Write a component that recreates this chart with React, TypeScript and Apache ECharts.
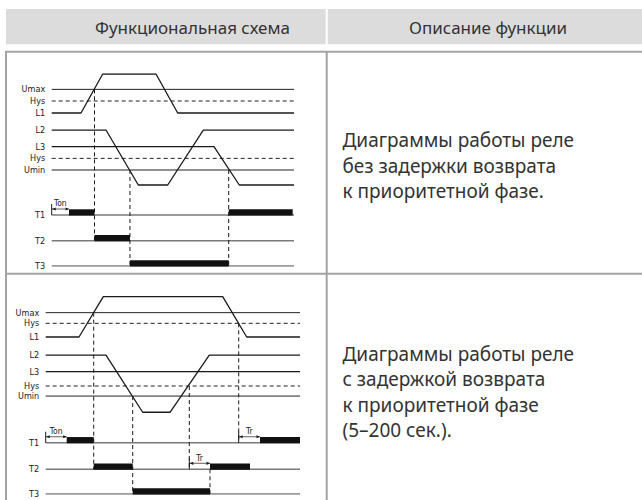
import React, { useEffect, useRef } from "react";
import * as echarts from "echarts";

// ---------- texts ----------
const headerTexts = ["Функциональная схема", "Описание функции"];
const desc1 = ["Диаграммы работы реле", "без задержки возврата", "к приоритетной фазе."];
const desc2 = ["Диаграммы работы реле", "с задержкой возврата", "к приоритетной фазе", "(5–200 сек.)."];

// ---------- level names (left labels) ----------
const levelNames = ["Umax", "Hys", "L1", "L2", "L3", "Hys", "Umin", "T1", "T2", "T3"];
const timerNames = ["Ton", "Tr"];

// ---------- diagram 1 (no return delay) ----------
// level values in diagram units (0 = highest voltage level, grows downward)
const d1Levels = [1.28, 2.25, 3.25, 4.67, 6.06, 7.03, 8.0, 11.75, 13.9, 16.0];
const d1L1 = [[0, 3.25], [12.09, 3.25], [21.05, 0], [43.05, 0], [52.0, 3.25], [100, 3.25]];
const d1L2 = [[0, 4.67], [22.41, 4.67], [35.74, 9.25], [47.87, 9.25], [62.57, 4.67], [100, 4.67]];
const d1L3 = [[0, 6.06], [66.98, 6.06], [77.42, 9.25], [100, 9.25]];
// relay on-intervals: [start, end, row level]
const d1Bars = [[7.14, 17.66, 11.75], [73.05, 99.46, 11.75], [17.66, 32.3, 13.9], [32.3, 73.05, 16.0]];
// dashed verticals: [time, fromLevel, toLevel]
const d1Verticals = [[17.66, 1.28, 13.9], [32.3, 8.0, 16.0], [73.05, 8.0, 16.0]];
// timers: [start, end, row level, name index]
const d1Timers = [[0, 7.14, 11.75, 0]];

// ---------- diagram 2 (with return delay) ----------
const d2Levels = [1.33, 2.22, 3.36, 4.86, 6.25, 7.44, 8.28, 12.17, 14.38, 16.44];
const d2L1 = [[0, 3.36], [13.09, 3.36], [22.65, 0], [69.6, 0], [79.04, 3.36], [100, 3.36]];
const d2L2 = [[0, 4.86], [23.71, 4.86], [38.14, 9.63], [48.88, 9.63], [64.33, 4.86], [100, 4.86]];
const d2L3 = [[0, 6.25], [100, 6.25]];
const d2Bars = [[8.26, 18.88, 12.17], [84.27, 100, 12.17], [18.88, 34.21, 14.38], [64.61, 80.34, 14.38], [34.21, 64.61, 16.44]];
const d2Verticals = [[18.88, 1.33, 14.38], [34.21, 8.28, 16.44], [56.47, 7.44, 14.38], [64.61, 14.38, 16.44], [75.9, 2.22, 12.17]];
const d2Timers = [[0, 8.26, 12.17, 0], [75.9, 84.27, 12.17, 1], [56.47, 64.61, 14.38, 1]];

const SMALL_FONT = "'Liberation Sans Narrow', 'DejaVu Sans Condensed', 'Liberation Sans', sans-serif";
const MAIN_FONT = "'Noto Sans', 'Open Sans', sans-serif";
const INK = "#1a1a1a";

function diagramSeries(gi: number, levels: number[], curves: number[][][], bars: number[][], verticals: number[][], timers: number[][]) {
  const s: any[] = [];
  const base = { xAxisIndex: gi, yAxisIndex: gi, silent: true, symbol: "none", z: 2 };
  // reference lines
  [0, 6].forEach((i) =>
    s.push({ ...base, type: "line", data: [[0, levels[i]], [100, levels[i]]], lineStyle: { color: "#222", width: 1 } })
  );
  [1, 5].forEach((i) =>
    s.push({ ...base, type: "line", data: [[0, levels[i]], [100, levels[i]]], lineStyle: { color: "#222", width: 1, type: [4, 3] } })
  );
  // relay baselines
  [7, 8, 9].forEach((i) =>
    s.push({ ...base, type: "line", data: [[0, levels[i]], [100, levels[i]]], lineStyle: { color: "#7a7a7a", width: 1.4 } })
  );
  // phase curves
  curves.forEach((c) =>
    s.push({ ...base, type: "line", data: c, lineStyle: { color: INK, width: 1.3 }, z: 3 })
  );
  // dashed verticals
  s.push({
    type: "custom", xAxisIndex: gi, yAxisIndex: gi, silent: true, z: 4,
    encode: { x: 0, y: [1, 2] },
    data: verticals,
    renderItem: (_p: any, api: any) => {
      const a = api.coord([api.value(0), api.value(1)]);
      const b = api.coord([api.value(0), api.value(2)]);
      return { type: "line", shape: { x1: a[0], y1: a[1], x2: b[0], y2: b[1] }, style: { stroke: INK, lineWidth: 1, lineDash: [4, 3] } };
    },
  });
  // relay bars
  s.push({
    type: "custom", xAxisIndex: gi, yAxisIndex: gi, silent: true, z: 5,
    encode: { x: [0, 1], y: 2 },
    data: bars,
    renderItem: (_p: any, api: any) => {
      const a = api.coord([api.value(0), api.value(2)]);
      const b = api.coord([api.value(1), api.value(2)]);
      return { type: "rect", shape: { x: a[0], y: a[1] - 5.7, width: b[0] - a[0], height: 6.2 }, style: { fill: "#111" } };
    },
  });
  // timers
  s.push({
    type: "custom", xAxisIndex: gi, yAxisIndex: gi, silent: true, z: 6,
    encode: { x: [0, 1], y: 2 },
    data: timers,
    renderItem: (_p: any, api: any) => {
      const a = api.coord([api.value(0), api.value(2)]);
      const b = api.coord([api.value(1), api.value(2)]);
      const ay = a[1] - 6;
      return {
        type: "group",
        children: [
          { type: "line", shape: { x1: a[0], y1: a[1], x2: a[0], y2: a[1] - 11 }, style: { stroke: INK, lineWidth: 1 } },
          { type: "line", shape: { x1: a[0], y1: ay, x2: b[0], y2: ay }, style: { stroke: INK, lineWidth: 0.7 } },
          { type: "polygon", shape: { points: [[b[0], ay], [b[0] - 3.5, ay - 1.6], [b[0] - 3.5, ay + 1.6]] }, style: { fill: INK } },
          { type: "polygon", shape: { points: [[a[0] + 0.5, ay], [a[0] + 4, ay - 1.6], [a[0] + 4, ay + 1.6]] }, style: { fill: INK } },
          {
            type: "text",
            style: { x: (a[0] + b[0]) / 2, y: ay - 1.2, text: timerNames[api.value(3)], fill: INK, fontSize: 8.5, fontFamily: SMALL_FONT, align: "center", verticalAlign: "bottom" },
          },
        ],
      };
    },
  });
  // left labels
  s.push({
    type: "custom", xAxisIndex: gi, yAxisIndex: gi, silent: true, z: 6,
    encode: { x: 0, y: 1 },
    data: levels.map((v, i) => [0, v, i]),
    renderItem: (_p: any, api: any) => {
      const a = api.coord([api.value(0), api.value(1)]);
      return {
        type: "text",
        style: { x: a[0] - 6.5, y: a[1], text: levelNames[api.value(2)], fill: INK, fontSize: 9, fontFamily: SMALL_FONT, align: "right", verticalAlign: "middle" },
      };
    },
  });
  return s;
}

function descText(lines: string[], y0: number, step: number) {
  return lines.map((t, i) => ({
    type: "text",
    x: 342.5,
    y: y0 + i * step,
    style: { text: t, fill: "#333", fontSize: 19, fontFamily: MAIN_FONT, verticalAlign: "middle" },
  }));
}

const borderColor = "#a3a3a3";

function buildOption(): any {
  const axisHidden = { show: false };
  return {
    animation: false,
    backgroundColor: "#ffffff",
    grid: [
      { left: 51.7, top: 74, width: 242.3, height: 192 },
      { left: 45.7, top: 296.7, width: 254.3, height: 197.3 },
    ],
    xAxis: [
      { type: "value", gridIndex: 0, min: 0, max: 100, ...axisHidden },
      { type: "value", gridIndex: 1, min: 0, max: 100, ...axisHidden },
    ],
    yAxis: [
      { type: "value", gridIndex: 0, min: 0, max: 16, inverse: true, ...axisHidden },
      { type: "value", gridIndex: 1, min: 0, max: 16.44, inverse: true, ...axisHidden },
    ],
    graphic: [
      { type: "rect", shape: { x: 6, y: 9, width: 319.7, height: 35.3 }, style: { fill: "#dcdcdc" }, silent: true },
      { type: "rect", shape: { x: 327.7, y: 9, width: 314.3, height: 35.3 }, style: { fill: "#dcdcdc" }, silent: true },
      { type: "text", x: 192.5, y: 27, style: { text: headerTexts[0], fill: "#333", fontSize: 17, fontFamily: MAIN_FONT, align: "center", verticalAlign: "middle" }, silent: true },
      { type: "text", x: 488, y: 27, style: { text: headerTexts[1], fill: "#333", fontSize: 17, fontFamily: MAIN_FONT, align: "center", verticalAlign: "middle" }, silent: true },
      // table borders
      { type: "line", shape: { x1: 5, y1: 51.8, x2: 642, y2: 51.8 }, style: { stroke: borderColor, lineWidth: 2 }, silent: true },
      { type: "line", shape: { x1: 6, y1: 51, x2: 6, y2: 500 }, style: { stroke: borderColor, lineWidth: 2 }, silent: true },
      { type: "line", shape: { x1: 326.7, y1: 51, x2: 326.7, y2: 500 }, style: { stroke: borderColor, lineWidth: 2 }, silent: true },
      { type: "line", shape: { x1: 5, y1: 273.8, x2: 642, y2: 273.8 }, style: { stroke: borderColor, lineWidth: 2 }, silent: true },
      ...descText(desc1, 140, 25.5),
      ...descText(desc2, 354, 25.3),
    ],
    series: [
      ...diagramSeries(0, d1Levels, [d1L1, d1L2, d1L3], d1Bars, d1Verticals, d1Timers),
      ...diagramSeries(1, d2Levels, [d2L1, d2L2, d2L3], d2Bars, d2Verticals, d2Timers),
    ],
  };
}

export default function App() {
  const ref = useRef<HTMLDivElement>(null);
  useEffect(() => {
    const chart = echarts.init(ref.current as HTMLDivElement, null, { renderer: "svg" });
    chart.setOption(buildOption());
    return () => chart.dispose();
  }, []);
  return (
    <div
      ref={ref}
      style={{ position: "absolute", left: 0, top: 0, width: 642, height: 500, background: "#fff" }}
    />
  );
}
